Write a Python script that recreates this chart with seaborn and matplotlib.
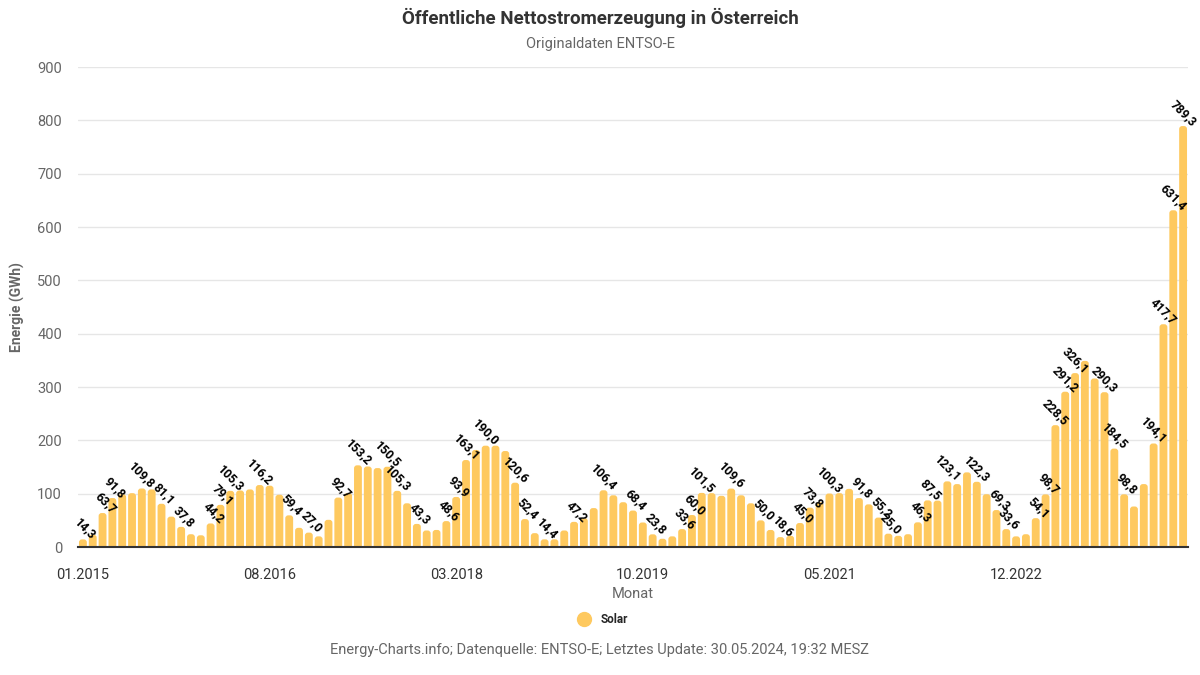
import pandas as pd
import seaborn as sns
import matplotlib.pyplot as plt
from matplotlib.lines import Line2D
from matplotlib.patches import FancyBboxPatch

# Monatswerte Solar (GWh), 01.2015 - 05.2024
monate = pd.date_range("2015-01-01", periods=113, freq="MS").strftime("%m.%Y").tolist()
solar = [
    14.3, 23, 63.7, 91.8, 99, 101, 109.8, 108, 81.1, 57, 37.8, 24,        # 2015
    22, 44.2, 79.1, 105.3, 106, 108, 116.2, 115, 98, 59.4, 36, 27.0,      # 2016
    20, 51, 92.7, 101, 153.2, 151, 148, 150.5, 105.3, 82, 43.3, 31,       # 2017
    32, 48.6, 93.9, 163.1, 182, 190.0, 190, 180, 120.6, 52.4, 26, 14.4,   # 2018
    14.5, 31, 47.2, 54, 73, 106.4, 97, 84, 68.4, 46, 23.8, 15.5,          # 2019
    20, 33.6, 60.0, 101.5, 101, 96, 109.6, 97, 82, 50.0, 32, 18.6,        # 2020
    21, 45.0, 73.8, 84, 100.3, 101, 109, 91.8, 80, 55.2, 25.0, 21,        # 2021
    24, 46.3, 87.5, 87, 123.1, 118, 140, 122.3, 99, 69.3, 33.6, 20,       # 2022
    24, 54.1, 98.7, 228.5, 291.2, 326.1, 349, 316, 290.3, 184.5, 98.8, 76,  # 2023
    118, 194.1, 417.7, 631.4, 789.3,                                      # 2024
]
# Balken mit Beschriftung
beschriftet = [0, 2, 3, 6, 8, 10, 13, 14, 15, 18, 21, 23, 26, 28, 31, 32, 34, 37, 38, 39,
               41, 44, 45, 47, 50, 53, 56, 58, 61, 62, 63, 66, 69, 71, 73, 74, 76, 79, 81,
               82, 85, 86, 88, 91, 93, 94, 97, 98, 99, 100, 101, 104, 105, 106, 109, 110,
               111, 112]
y_ticks = [0, 100, 200, 300, 400, 500, 600, 700, 800, 900]

df = pd.DataFrame({"Monat": monate, "Solar": solar})

sns.set_theme(style="white")
plt.rcParams["font.family"] = ["Roboto", "DejaVu Sans"]

gelb = "#fec95f"
grau = "#666666"
dunkel = "#333333"

fig = plt.figure(figsize=(12, 6.75), dpi=100)
ax = fig.add_axes([0.065, 0.1896, 0.925, 0.7111])

sns.barplot(data=df, x="Monat", y="Solar", color=gelb, saturation=1, width=0.8,
            ax=ax, zorder=3)

# Balken oben abrunden (wie im Original)
for p in list(ax.patches):
    x0, w, h = p.get_x(), p.get_width(), p.get_height()
    p.remove()
    ax.add_patch(FancyBboxPatch((x0, -20), w, h + 20,
                                boxstyle="round,pad=0,rounding_size=0.3",
                                mutation_aspect=18.4, facecolor=gelb,
                                edgecolor="none", zorder=3))

ax.set_xlim(-0.5, len(monate) - 0.5)
ax.set_ylim(0, 900)
ax.set_yticks(y_ticks)
ax.set_yticklabels([str(t) for t in y_ticks], color=grau, fontsize=10.5)
ax.yaxis.grid(True, color="#e6e6e6", linewidth=1, zorder=0)
ax.tick_params(axis="y", length=0, pad=11.5)

xt = list(range(0, len(monate), 19))
ax.set_xticks(xt)
ax.set_xticklabels([monate[i] for i in xt], color=dunkel, fontsize=10.5)
ax.tick_params(axis="x", length=0, pad=15)

for s in ["left", "right", "top"]:
    ax.spines[s].set_visible(False)
ax.spines["bottom"].set_color(dunkel)
ax.spines["bottom"].set_linewidth(1.5)
ax.spines["bottom"].set_zorder(4)

ax.set_xlabel("Monat", color=grau, fontsize=10.5, labelpad=4)
ax.set_ylabel("Energie (GWh)", color=grau, fontsize=10, fontweight="bold", labelpad=9)

for i in beschriftet:
    v = solar[i]
    ax.annotate(f"{v:.1f}".replace(".", ","), (i, v), xytext=(5, -2),
                textcoords="offset points", ha="right", va="bottom",
                rotation=-45, rotation_mode="anchor", fontsize=8.8,
                fontweight="bold", color="black", zorder=5, annotation_clip=False)

fig.text(0.5, 0.973, "Öffentliche Nettostromerzeugung in Österreich", ha="center",
         va="center", fontsize=13.5, fontweight="bold", color=dunkel)
fig.text(0.5, 0.935, "Originaldaten ENTSO-E", ha="center", va="center",
         fontsize=10.5, color=grau)

handle = Line2D([], [], marker="o", linestyle="", markersize=10,
                markerfacecolor=gelb, markeredgecolor=gelb)
fig.legend([handle], ["Solar"], loc="center", bbox_to_anchor=(0.5, 0.082),
           frameon=False, handletextpad=0.4,
           prop={"size": 8.5, "weight": "bold"})

fig.text(0.5, 0.037,
         "Energy-Charts.info; Datenquelle: ENTSO-E; Letztes Update: 30.05.2024, 19:32 MESZ",
         ha="center", va="center", fontsize=10.5, color=grau)

fig.savefig("out.png", dpi=100)
